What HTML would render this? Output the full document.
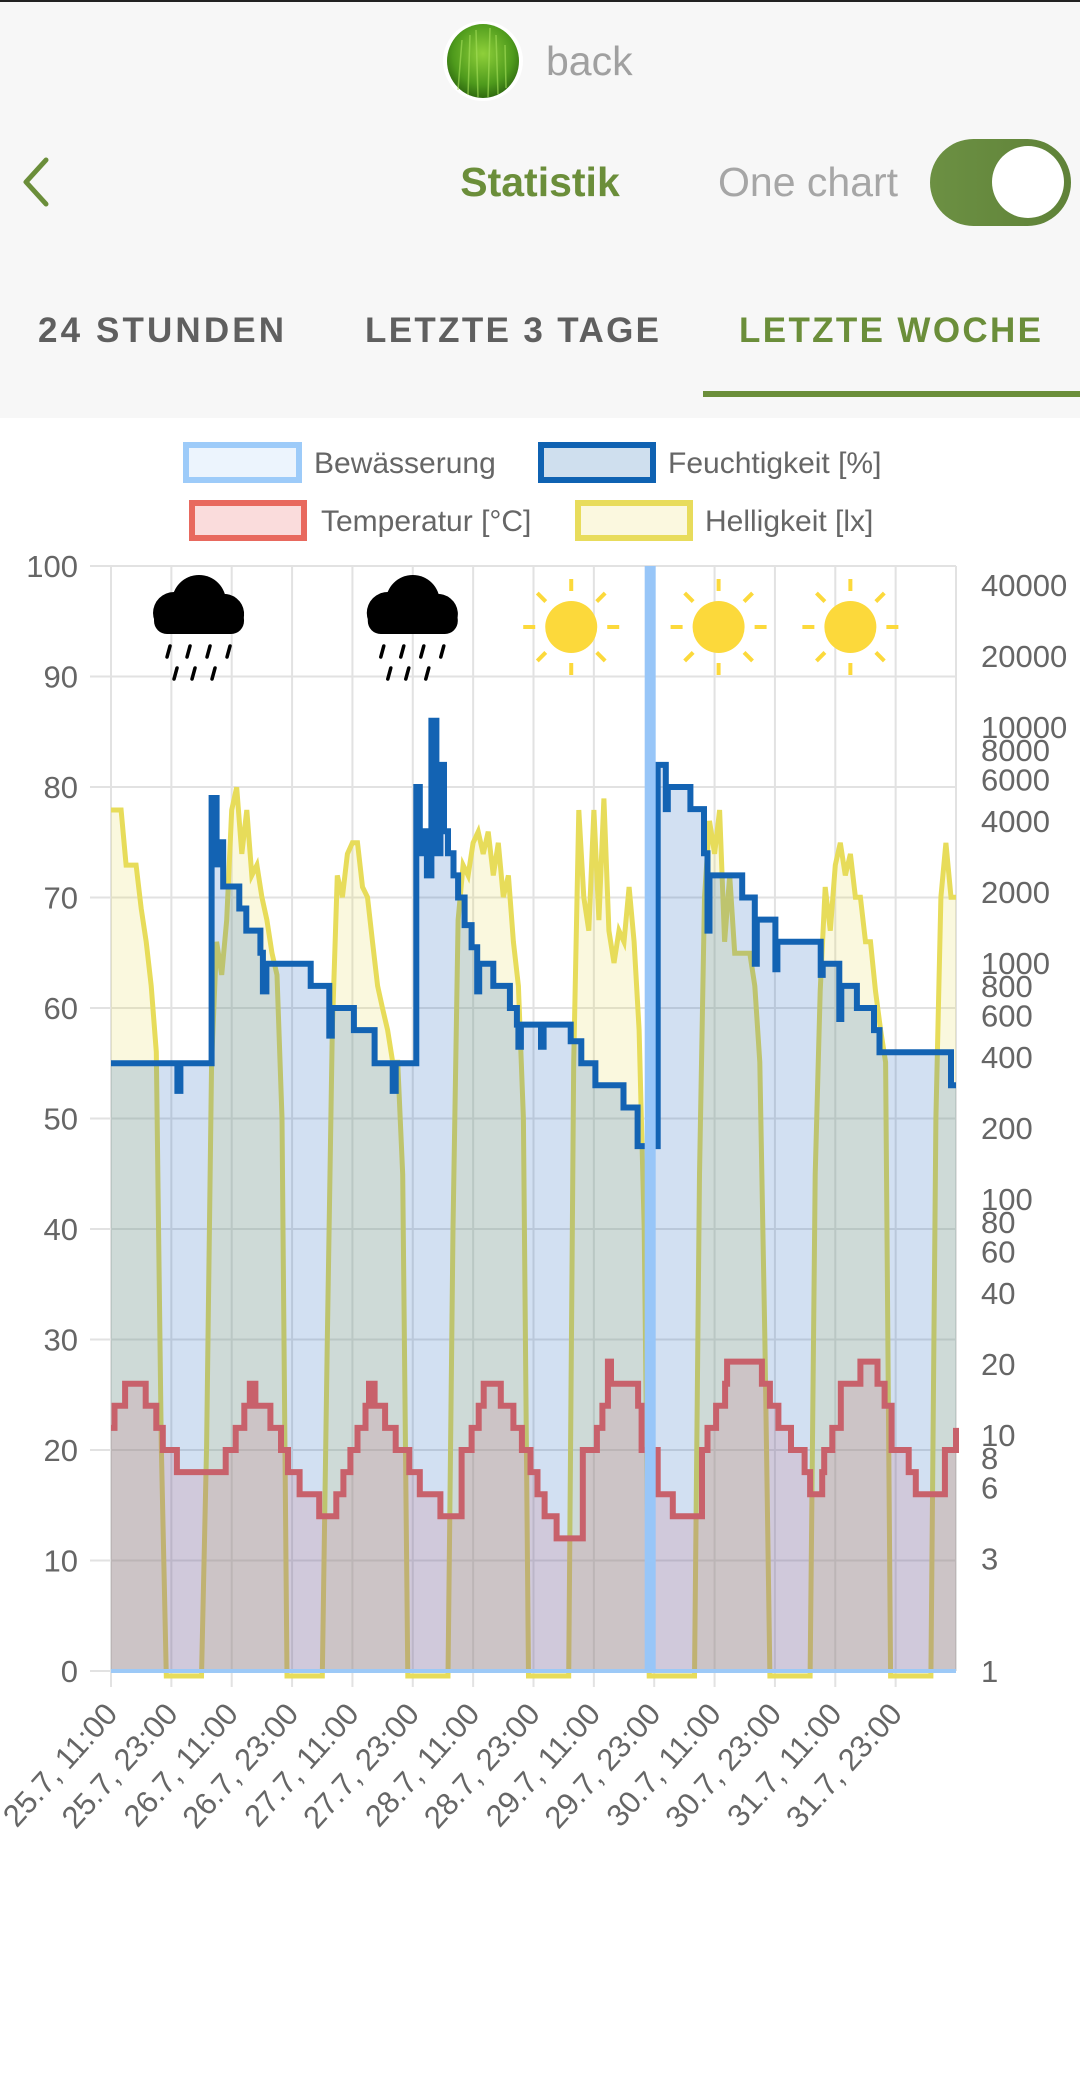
<!DOCTYPE html>
<html><head><meta charset="utf-8">
<style>
html,body{margin:0;padding:0;background:#fff;}
body{width:1080px;height:2073px;overflow:hidden;font-family:"Liberation Sans",sans-serif;}
svg text{font-family:"Liberation Sans",sans-serif;}
</style></head>
<body>
<svg id="root" width="1080" height="2073" viewBox="0 0 1080 2073" xmlns="http://www.w3.org/2000/svg">
<defs>
<radialGradient id="grass" cx="50%" cy="40%" r="60%">
<stop offset="0" stop-color="#8fd03a"/><stop offset="0.7" stop-color="#4e9a1c"/><stop offset="1" stop-color="#2f6a10"/>
</radialGradient>
<linearGradient id="tog" x1="0" x2="1"><stop offset="0" stop-color="#6c9043"/><stop offset="1" stop-color="#5f8238"/></linearGradient>
</defs>
<rect x="0" y="0" width="1080" height="418" fill="#f7f7f7"/>
<rect x="0" y="0" width="1080" height="2" fill="#222"/>
<g>
<circle cx="483" cy="61" r="40" fill="#fff"/>
<ellipse cx="483" cy="61" rx="36" ry="37" fill="url(#grass)"/>
<path d="M458 90 L462 40 M468 95 L470 35 M478 97 L476 30 M488 97 L490 28 M498 94 L496 35 M506 88 L505 45" stroke="#a6e05a" stroke-width="1.5" opacity="0.6"/>
</g>
<text x="546" y="75" font-size="41" fill="#a0a0a0">back</text>
<path d="M46 160 L26 182 L46 204" fill="none" stroke="#6b8e3a" stroke-width="5" stroke-linecap="round" stroke-linejoin="round"/>
<text x="540" y="196" font-size="41" font-weight="bold" fill="#6b8e3a" text-anchor="middle">Statistik</text>
<text x="718" y="196" font-size="41" fill="#a6a6a6">One chart</text>
<g>
<rect x="930" y="139" width="141" height="87" rx="43.5" fill="url(#tog)"/>
<circle cx="1028" cy="182" r="36" fill="#fff"/>
</g>
<g font-size="35" fill="#5f5f5f" letter-spacing="2" font-weight="bold">
<text x="38" y="342" textLength="248">24 STUNDEN</text>
<text x="365" y="342" textLength="296">LETZTE 3 TAGE</text>
<text x="739" y="342" fill="#6b8e3a" textLength="304">LETZTE WOCHE</text>
</g>
<rect x="703" y="391" width="377" height="6" fill="#6b8e3a"/>

<g font-size="30" fill="#666">
<g><rect x="186" y="445" width="113" height="35" fill="#ecf4fd" stroke="#9dcbf9" stroke-width="6"/><text x="314" y="473">Bewässerung</text></g>
<g><rect x="541" y="445" width="112" height="35" fill="#cfdfee" stroke="#0f62b2" stroke-width="6"/><text x="668" y="473">Feuchtigkeit [%]</text></g>
<g><rect x="192" y="503" width="112" height="35" fill="#fadcdc" stroke="#e8695e" stroke-width="6"/><text x="321" y="531">Temperatur [°C]</text></g>
<g><rect x="578" y="503" width="112" height="35" fill="#fbf8df" stroke="#e8dc5c" stroke-width="6"/><text x="705" y="531">Helligkeit [lx]</text></g>
</g>
<g id="chart"></g>
</svg>
<script>
// ---- data ----
const xTickLabels = ["25.7, 11:00","25.7, 23:00","26.7, 11:00","26.7, 23:00","27.7, 11:00","27.7, 23:00","28.7, 11:00","28.7, 23:00","29.7, 11:00","29.7, 23:00","30.7, 11:00","30.7, 23:00","31.7, 11:00","31.7, 23:00"];
const leftTicks = [0,10,20,30,40,50,60,70,80,90,100];
const rightTicks = [1,3,6,8,10,20,40,60,80,100,200,400,600,800,1000,2000,4000,6000,8000,10000,20000,40000];
// humidity: step start hour, value (%)
const humHours = [0,13.2,13.8,20,21,21.7,22.3,25.5,26.9,29.7,30.2,30.9,39.7,43.4,43.9,48.3,52.4,56,56.6,60.7,61.4,62.1,62.8,63.7,64.7,65.5,66.2,67,68.1,69,70.3,71.7,72.8,73.2,76,79.3,80.7,81,81.5,85.5,86,91.4,93.5,96.3,101.9,104.7,108.7,110.3,110.7,115.2,117.9,118.6,119,125.5,128,128.4,132.1,132.5,141.1,141.5,144.8,145.2,148.3,151.7,152.8,154.5,167,168];
const humValues = [55,52.5,55,79,73,75,71,69,67,65,61.5,64,62,57.5,60,58,55,52.5,55,80,74,76,72,86,74,82,76,74,72,70,67.5,65.5,61.5,64,62,60,58.5,56.5,58.5,56.5,58.5,57,55,53,51,47.5,82,78,80,78,74,67,72,70,64,68,63.5,66,63,64,59,62,60,58,56,56,53,53];
// temperature: step start hour, value (°C)
const tempHours = [0,0.7,2.8,6.9,9,10.3,13.1,22.8,24.8,26.5,27.6,28.7,31.7,33.8,35.2,37.5,41.4,44.8,46.2,47.6,49,50.6,51.3,52.4,54.5,56.6,59.3,61.4,65.5,69.7,71.7,73.1,74.1,77.5,80,81.7,83.4,84.8,86.2,88.6,93.8,96.6,97.7,98.8,99.4,104.8,105.5,108.7,111.7,117.5,118.6,120.3,122.1,122.5,129.4,131,132.7,135.2,137.9,139,141.4,141.8,143.4,145.1,149,152.4,153.8,155.2,158.6,160,165.8,168];
const tempValues = [22,24,26,24,22,20,18,20,22,24,26,24,22,20,18,16,14,16,18,20,22,24,26,24,22,20,18,16,14,20,22,24,26,24,22,20,18,16,14,12,20,22,24,28,26,24,20,16,14,20,22,24,26,28,26,24,22,20,18,16,18,20,22,26,28,26,24,20,18,16,20,22];
// brightness: hourly lux from hour 0
const luxValues = [4450,4450,4450,2600,2600,2600,1700,1230,800,420,9,
0,0,0,0,0,0,0,0,
9,380,1230,890,1520,4450,5550,2900,4450,2350,2600,1900,1520,1100,890,220,
0,0,0,0,0,0,0,0,
25,520,2350,1900,2900,3230,3230,2100,1900,1230,800,640,520,380,380,127,
0,0,0,0,0,0,0,0,0,
75,1520,2600,2350,3230,3600,2900,3600,2350,3230,1900,2350,1230,800,220,
0,0,0,0,0,0,0,0,0,
380,4450,1900,1370,4450,1520,4980,1370,1000,1370,1230,2100,1230,520,75,
0,0,0,0,0,0,0,0,0,0,
127,1900,4000,2900,4450,1230,2350,1100,1100,1100,1100,800,380,25,
0,0,0,0,0,0,0,0,0,
127,760,2100,1370,2600,3230,2350,2900,1900,1900,1230,1230,760,520,380,
0,0,0,0,0,0,0,0,0,
220,1900,3230,1900,1900];
// irrigation events: hour, value
const irrHours = [107.2];
const irrValues = [100];
const weatherIcons = ["rain","rain","sun","sun","sun"];
const weatherHours = [17.5,60,91.5,120.8,147];

// ---- axes ----
const X0=111, X1=956, Y0=1671, Y100=566, HMAX=168;
const LOGPX=236;
const xs = h => X0 + h*(X1-X0)/HMAX;
const yl = v => Y0 - v*(Y0-Y100)/100;
const yr = v => v<1 ? Y0+5 : Y0 - Math.log10(v)*LOGPX;
const NS="http://www.w3.org/2000/svg";
const chart=document.getElementById('chart');
function mk(tag,attrs,parent){const e=document.createElementNS(NS,tag);for(const k in attrs)e.setAttribute(k,attrs[k]);(parent||chart).appendChild(e);return e;}

// grid
const grid=mk('g',{});


leftTicks.forEach(v=>{
  const l=mk('line',{x1:90,x2:X1,y1:yl(v),y2:yl(v),stroke:'#e2e2e2','stroke-width':2},grid);
  
  
  const t=mk('text',{x:78,y:yl(v)+11,'font-size':31,fill:'#666','text-anchor':'end'},grid);
  t.textContent=v;
  
  
});
xTickLabels.forEach((lab,i)=>{
  const x=xs(i*12);
  const l=mk('line',{x1:x,x2:x,y1:Y100,y2:Y0+16,stroke:'#e2e2e2','stroke-width':2},grid);
  
  
  const t=mk('text',{x:0,y:0,'font-size':31,fill:'#666','text-anchor':'end',transform:`translate(${x+8},${Y0+44}) rotate(-48)`},grid);
  t.textContent=lab;
  
  
});
mk('line',{x1:X1,x2:X1,y1:Y100,y2:Y0,stroke:'#e2e2e2','stroke-width':2},grid);
rightTicks.forEach(v=>{
  const t=mk('text',{x:981,y:yr(v)+11,'font-size':31,fill:'#666'},grid);
  t.textContent=v;
  
  
});

// brightness series
let lp='';
luxValues.forEach((v,i)=>{lp+=(i?'L':'M')+xs(i).toFixed(1)+' '+yr(v).toFixed(1);});
const lf=mk('path',{d:lp+`L${xs(luxValues.length-1)} ${Y0}L${xs(0)} ${Y0}Z`,fill:'rgba(228,214,70,0.18)'});


const ll=mk('path',{d:lp,fill:'none',stroke:'#e7dc5a','stroke-width':5,'stroke-linejoin':'miter'});



function stepPath(hs,vs,yf){let d='';for(let i=0;i<hs.length;i++){const x=xs(hs[i]).toFixed(1),y=yf(vs[i]).toFixed(1);if(i===0)d+=`M${x} ${y}`;else d+=`L${x} ${yf(vs[i-1]).toFixed(1)}L${x} ${y}`;}return d;}

// humidity
const hp=stepPath(humHours,humValues,yl);
const hf=mk('path',{d:hp+`L${xs(HMAX)} ${Y0}L${X0} ${Y0}Z`,fill:'rgba(30,100,190,0.2)'});


const hl=mk('path',{d:hp,fill:'none',stroke:'#1363b3','stroke-width':6});



// temperature
const tp=stepPath(tempHours,tempValues,yl);
const tf=mk('path',{d:tp+`L${xs(HMAX)} ${Y0}L${X0} ${Y0}Z`,fill:'rgba(200,110,130,0.2)'});


const tl=mk('path',{d:tp,fill:'none',stroke:'#c8616b','stroke-width':6});



// irrigation baseline + events
const ib=mk('line',{x1:X0,x2:X1,y1:Y0,y2:Y0,stroke:'#9cc9f7','stroke-width':4});


irrHours.forEach((h,i)=>{
  const b=mk('line',{x1:xs(h),x2:xs(h),y1:Y0,y2:yl(irrValues[i]),stroke:'#98c6f8','stroke-width':11});
  
  
});

// weather icons
weatherIcons.forEach((w,i)=>{
  const cx=xs(weatherHours[i]);
  const g=mk('g',{});
  if(w==='rain'){
    
    
    const cy=612;
    mk('path',{d:`M${cx-25} ${cy+22} A21 21 0 0 1 ${cx-25} ${cy-20} A26 26 0 0 1 ${cx+23} ${cy-18} A20 20 0 0 1 ${cx+27} ${cy+22} Z`,fill:'#000'},g);
    mk('circle',{cx:cx,cy:cy-10,r:27,fill:'#000'},g);
    mk('rect',{x:cx-45,y:cy-5,width:90,height:27,rx:13,fill:'#000'},g);
    const drops=[[-31,40],[-11,40],[9,40],[29,40],[-24,62],[-6,62],[14,62]];
    drops.forEach(d=>mk('line',{x1:cx+d[0]+2,y1:cy+d[1]-6,x2:cx+d[0]-1,y2:cy+d[1]+5,stroke:'#000','stroke-width':3.5,'stroke-linecap':'round'},g));
  } else {
    
    
    const cy=627;
    mk('circle',{cx:cx,cy:cy,r:26,fill:'#fcd93b'},g);
    for(let a=0;a<8;a++){const an=a*Math.PI/4;mk('line',{x1:cx+Math.cos(an)*36,y1:cy+Math.sin(an)*36,x2:cx+Math.cos(an)*48,y2:cy+Math.sin(an)*48,stroke:'#fcd93b','stroke-width':4},g);}
  }
});
</script>
</body></html>
